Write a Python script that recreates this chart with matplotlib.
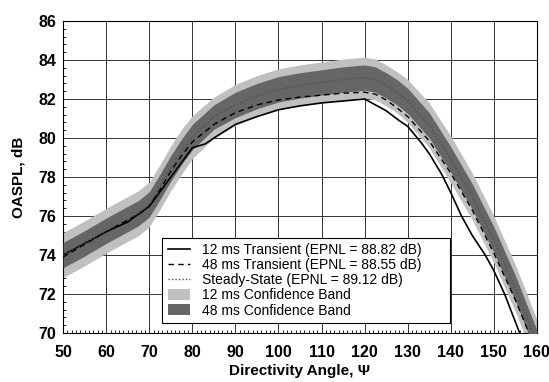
import numpy as np
import matplotlib.pyplot as plt
from matplotlib.patches import Patch
from matplotlib.lines import Line2D

plt.rcParams['font.family'] = ['Liberation Sans', 'DejaVu Sans']

# 12 ms transient (solid)
ang_12 = [50, 55, 60, 65, 70, 75, 80, 83, 85, 90, 95, 100, 105, 110, 115, 120,
          125, 128, 130, 133, 135, 138, 140, 142.5, 145, 148, 150, 152.5, 156, 160]
oaspl_12 = [74.0, 74.6, 75.2, 75.7, 76.5, 78.0, 79.5, 79.7, 80.0, 80.7, 81.1, 81.45,
            81.65, 81.8, 81.9, 82.0, 81.4, 80.9, 80.6, 79.8, 79.2, 78.1, 77.2, 76.0,
            75.0, 74.0, 73.2, 72.0, 70.0, 68.0]

# angles for bands, 48 ms and steady-state
ang = [50, 55, 60, 65, 67.5, 70, 72.5, 75, 77.5, 80, 85, 90, 95, 100, 105, 110,
       115, 120, 122.5, 125, 127.5, 130, 135, 140, 145, 150, 155, 160]

oaspl_48 = [73.9, 74.55, 75.2, 75.8, 76.1, 76.5, 77.35, 78.3, 79.1, 79.8, 80.7, 81.3,
            81.7, 81.95, 82.1, 82.2, 82.3, 82.35, 82.25, 81.95, 81.55, 81.1, 79.85,
            78.2, 76.3, 74.1, 71.7, 69.0]
oaspl_ss = [74.0, 74.6, 75.25, 75.85, 76.15, 76.6, 77.5, 78.45, 79.3, 80.05, 81.1, 81.7,
            82.15, 82.5, 82.7, 82.85, 83.0, 83.1, 83.0, 82.7, 82.35, 81.9, 80.65,
            78.9, 77.0, 74.8, 72.3, 69.5]

# 12 ms confidence band (light)
band12_lo = [72.85, 73.45, 74.1, 74.7, 75.0, 75.45, 76.35, 77.3, 78.15, 78.95, 80.0,
             80.65, 81.1, 81.45, 81.65, 81.8, 81.95, 82.05, 81.95, 81.65, 81.3, 80.8,
             79.5, 77.7, 75.8, 73.6, 71.1, 68.3]
band12_hi = [75.15, 75.75, 76.4, 77.0, 77.3, 77.75, 78.65, 79.6, 80.45, 81.15, 82.1,
             82.75, 83.2, 83.55, 83.75, 83.9, 84.05, 84.15, 84.05, 83.75, 83.4, 83.0,
             81.8, 80.1, 78.2, 76.0, 73.5, 70.7]

# 48 ms confidence band (dark)
band48_lo = [73.35, 73.95, 74.6, 75.2, 75.5, 75.95, 76.85, 77.8, 78.65, 79.4, 80.45,
             81.05, 81.5, 81.85, 82.05, 82.2, 82.35, 82.45, 82.35, 82.05, 81.7, 81.25,
             80.0, 78.25, 76.35, 74.15, 71.65, 68.85]
band48_hi = [74.65, 75.25, 75.9, 76.5, 76.8, 77.25, 78.15, 79.1, 79.95, 80.7, 81.7,
             82.35, 82.8, 83.15, 83.35, 83.5, 83.65, 83.75, 83.65, 83.35, 83.0, 82.55,
             81.3, 79.55, 77.65, 75.45, 72.95, 70.15]

fig = plt.figure(figsize=(5.49, 3.82), dpi=100)
ax = fig.add_axes([0.115, 0.128, 0.863, 0.817])

ax.fill_between(ang, band12_lo, band12_hi, color='#c0c0c0', lw=0, zorder=2)
ax.fill_between(ang, band48_lo, band48_hi, color='#666666', lw=0, zorder=3)
ax.plot(ang_12, oaspl_12, color='black', lw=1.2, zorder=5)
ax.plot(ang, oaspl_48, color='black', lw=1.0, ls=(0, (4, 3)), zorder=5)
ax.plot(ang, oaspl_ss, color='#505050', lw=1.0, ls=(0, (1, 1.5)), zorder=5)

ax.set_xlim(50, 160)
ax.set_ylim(70, 86)
ax.set_xticks(np.arange(50, 161, 10))
ax.set_yticks(np.arange(70, 87, 2))
ax.set_xticks(np.arange(50, 161, 1), minor=True)
ax.set_yticks(np.arange(70, 86.01, 0.4), minor=True)
ax.grid(True, which='major', color='#333333', lw=0.7, zorder=1)
ax.set_axisbelow(True)
ax.tick_params(which='both', direction='in', top=False, right=False)
ax.tick_params(axis='x', which='major', length=0, labelsize=11.5, pad=8.5)
ax.tick_params(axis='y', which='major', length=0, labelsize=11.5, pad=5)
ax.tick_params(which='minor', length=2.5, width=0.6)
for lab in ax.get_xticklabels() + ax.get_yticklabels():
    lab.set_fontweight('bold')
for s in ax.spines.values():
    s.set_linewidth(0.8)

ax.set_xlabel('Directivity Angle, \u03a8', fontsize=11, fontweight='bold', labelpad=3)
ax.set_ylabel('OASPL, dB', fontsize=11, fontweight='bold', labelpad=9)

handles = [
    Line2D([], [], color='black', lw=1.2),
    Line2D([], [], color='black', lw=1.0, ls=(0, (4, 3))),
    Line2D([], [], color='#505050', lw=1.0, ls=(0, (1, 1.5))),
    Patch(facecolor='#c0c0c0', edgecolor='none'),
    Patch(facecolor='#666666', edgecolor='none'),
]
labels = ['12 ms Transient (EPNL = 88.82 dB)      ',
          '48 ms Transient (EPNL = 88.55 dB)',
          'Steady-State (EPNL = 89.12 dB)',
          '12 ms Confidence Band',
          '48 ms Confidence Band']
leg = ax.legend(handles, labels, loc='lower left', bbox_to_anchor=(0.209, 0.032),
                fontsize=10, frameon=True, fancybox=False, framealpha=1,
                edgecolor='black', handlelength=1.6, handleheight=0.8,
                labelspacing=0.08, borderpad=0.4, handletextpad=0.85,
                borderaxespad=0)
leg.get_frame().set_linewidth(0.8)
leg.set_zorder(10)

fig.savefig('out.png', dpi=100)
